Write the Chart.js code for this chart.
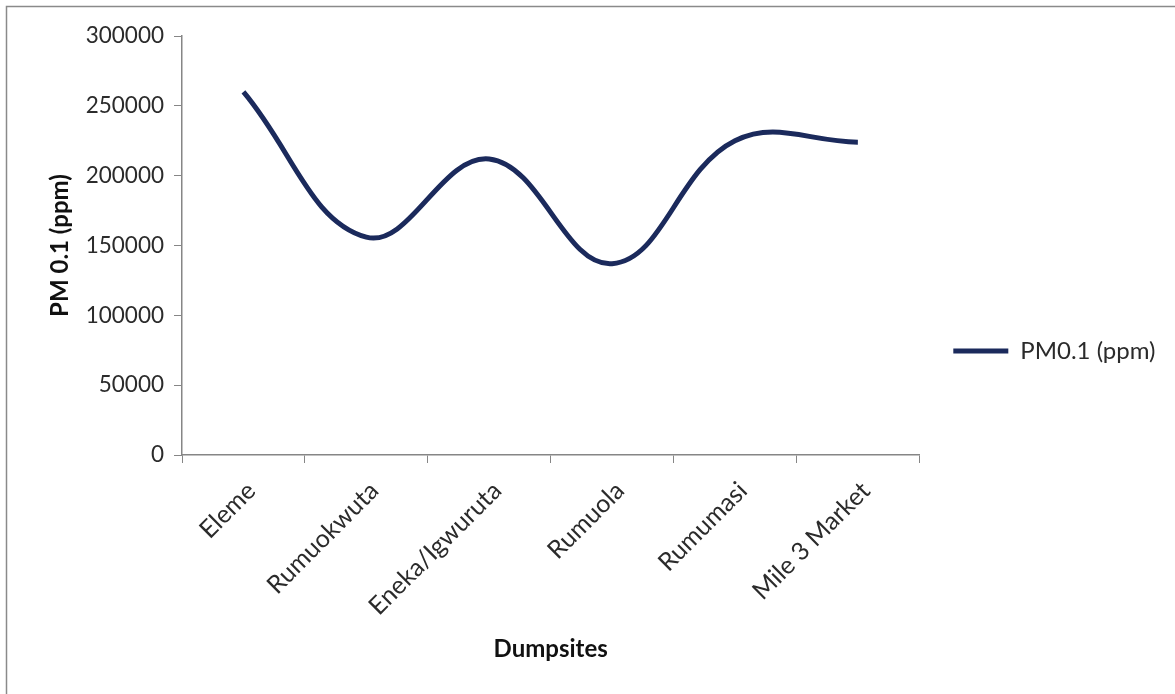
<!DOCTYPE html>
<html>
<head>
<meta charset="utf-8">
<script src="https://cdn.jsdelivr.net/npm/chart.js@4"></script>
<style>
  html, body { margin: 0; padding: 0; background: #ffffff; }
  canvas { display: block; }
</style>
</head>
<body>
<canvas id="chart" width="1175" height="694"></canvas>
<script>
// PM0.1 concentration at each dumpsite
const dumpsites = ['Eleme', 'Rumuokwuta', 'Eneka/Igwuruta', 'Rumuola', 'Rumumasi', 'Mile 3 Market'];
const pm01 = [260000, 156000, 212000, 137000, 225000, 224000];
const yTickValues = [0, 50000, 100000, 150000, 200000, 250000, 300000];
const seriesName = 'PM0.1 (ppm)';
const yAxisTitle = 'PM 0.1 (ppm)';
const xAxisTitle = 'Dumpsites';

const LINE_COLOR = '#1b2a5c';
const AXIS_COLOR = '#868686';
const TEXT_COLOR = '#2b2b2b';
const FONT = 'Lato';

// white background plus the thin outer frame on the left and top edges
const framePlugin = {
  id: 'frame',
  beforeDraw(chart) {
    const ctx = chart.ctx;
    ctx.save();
    ctx.fillStyle = '#ffffff';
    ctx.fillRect(0, 0, chart.width, chart.height);
    ctx.strokeStyle = '#8a8a8a';
    ctx.lineWidth = 1.5;
    ctx.beginPath();
    ctx.moveTo(6.5, chart.height);
    ctx.lineTo(6.5, 6.5);
    ctx.lineTo(chart.width, 6.5);
    ctx.stroke();
    ctx.restore();
  }
};

new Chart(document.getElementById('chart'), {
  type: 'line',
  data: {
    labels: dumpsites,
    datasets: [{
      label: seriesName,
      data: pm01,
      borderColor: LINE_COLOR,
      backgroundColor: LINE_COLOR,
      borderWidth: 5,
      pointRadius: 0,
      pointHoverRadius: 0,
      tension: 0.4,
      fill: false
    }]
  },
  options: {
    responsive: false,
    animation: false,
    layout: { padding: { left: 7, top: 36, right: 9.5, bottom: 28 } },
    plugins: {
      tooltip: { enabled: false },
      legend: {
        position: 'right',
        align: 'center',
        labels: {
          boxWidth: 55,
          boxHeight: 5,
          padding: 34,
          color: TEXT_COLOR,
          font: { family: FONT, size: 24 },
          generateLabels: (chart) =>
            Chart.defaults.plugins.legend.labels.generateLabels(chart)
              .map(item => Object.assign(item, { lineWidth: 0 }))
        }
      }
    },
    scales: {
      x: {
        type: 'category',
        offset: true,
        grid: {
          offset: true,
          drawOnChartArea: false,
          drawTicks: true,
          tickLength: 8,
          color: AXIS_COLOR
        },
        border: { color: AXIS_COLOR, width: 1.5 },
        ticks: {
          minRotation: 45,
          maxRotation: 45,
          padding: 13,
          labelOffset: 8,
          color: TEXT_COLOR,
          font: { family: FONT, size: 25 }
        },
        title: {
          display: true,
          text: xAxisTitle,
          color: '#111111',
          font: { family: FONT, size: 24, weight: 'bold' },
          padding: { top: 0, bottom: 2 }
        },
        afterFit: (scale) => { scale.height = 211; }
      },
      y: {
        min: 0,
        max: 300000,
        grid: {
          drawOnChartArea: false,
          drawTicks: true,
          tickLength: 8,
          color: AXIS_COLOR
        },
        border: { color: AXIS_COLOR, width: 1.5 },
        afterBuildTicks: (scale) => { scale.ticks = yTickValues.map(v => ({ value: v })); },
        ticks: {
          padding: 10,
          color: TEXT_COLOR,
          font: { family: FONT, size: 22.5 },
          callback: (v) => String(v)
        },
        title: {
          display: true,
          text: yAxisTitle,
          color: '#111111',
          font: { family: FONT, size: 24, weight: 'bold' },
          padding: { top: 38.5, bottom: 0 }
        },
        afterFit: (scale) => { scale.width = 175; }
      }
    }
  },
  plugins: [framePlugin]
});
</script>
</body>
</html>
